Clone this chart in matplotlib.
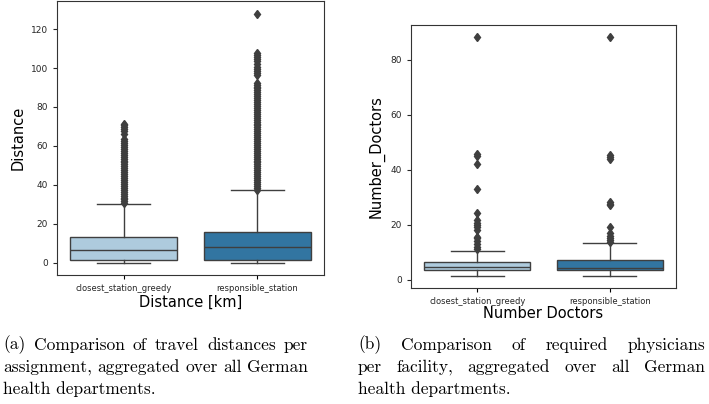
import matplotlib.pyplot as plt

methods = ["closest_station_greedy", "responsible_station"]
box_colors = ["#aecbdd", "#3275a1"]

# Distanz-Boxplots
dist_q1 = [1.4, 1.5]
dist_med = [6.5, 8.0]
dist_q3 = [13.0, 16.0]
dist_lo = [0.1, 0.1]
dist_hi = [30.3, 37.3]
dist_fliers_greedy = [30.5, 31.5, 32.5, 33.5, 34.5, 35.5, 36.5, 37.5, 38.5, 39.5,
                      40.5, 41.5, 42.5, 43.5, 44.5, 45.5, 46.5, 47.5, 48.5, 49.5,
                      50.5, 51.5, 52.5, 53.5, 54.5, 55.5, 56.5, 57.5, 58.5, 59.5,
                      60.5, 61.5, 62.5, 63.5, 66.0, 67.5, 68.5, 69.5, 70.5, 71.5]
dist_fliers_resp = [37.5, 38.5, 39.5, 40.5, 41.5, 42.5, 43.5, 44.5, 45.5, 46.5,
                    47.5, 48.5, 49.5, 50.5, 51.5, 52.5, 53.5, 54.5, 55.5, 56.5,
                    57.5, 58.5, 59.5, 60.5, 61.5, 62.5, 63.5, 64.5, 65.5, 66.5,
                    67.5, 68.5, 69.5, 70.5, 71.5, 72.5, 73.5, 74.5, 75.5, 76.5,
                    77.5, 78.5, 79.5, 80.5, 81.5, 82.5, 83.5, 84.5, 85.5, 86.5,
                    87.5, 88.5, 89.5, 90.5, 91.5, 92.5, 96.5, 97.5, 98.5, 99.5,
                    100.5, 102.0, 103.5, 104.5, 105.5, 106.5, 107.5, 128.0]

# Arzt-Boxplots
doc_q1 = [3.4, 3.4]
doc_med = [4.6, 4.4]
doc_q3 = [6.4, 7.3]
doc_lo = [1.3, 1.3]
doc_hi = [10.4, 13.3]
doc_fliers_greedy = [11.3, 12.0, 13.1, 14.0, 15.0, 15.5, 18.0, 19.0, 20.0, 20.7,
                     21.6, 24.3, 33.0, 42.0, 45.0, 45.6, 88.3]
doc_fliers_resp = [13.7, 14.5, 15.2, 16.0, 16.8, 19.2, 27.0, 27.7, 28.3, 44.0,
                   44.6, 45.4, 88.3]

caption_a = ["(a) Comparison of travel distances per",
             "assignment, aggregated over all German",
             "health departments."]
caption_b = ["(b) Comparison of required physicians",
             "per facility, aggregated over all German",
             "health departments."]

edge = "#3f3f3f"
cap_size = 12.5


def make_stats(q1, med, q3, lo, hi, fliers):
    stats = []
    for i in range(len(q1)):
        stats.append({"q1": q1[i], "med": med[i], "q3": q3[i],
                      "whislo": lo[i], "whishi": hi[i], "fliers": fliers[i]})
    return stats


def draw_box(ax, stats):
    res = ax.bxp(stats, positions=[0, 1], widths=0.8, patch_artist=True,
                 boxprops=dict(edgecolor=edge, linewidth=1.0),
                 medianprops=dict(color=edge, linewidth=1.0),
                 whiskerprops=dict(color=edge, linewidth=1.0),
                 capprops=dict(color=edge, linewidth=1.0),
                 flierprops=dict(marker="d", markerfacecolor=edge,
                                 markeredgecolor=edge, markersize=4.5))
    for patch, c in zip(res["boxes"], box_colors):
        patch.set_facecolor(c)
    ax.set_xlim(-0.5, 1.5)
    ax.set_xticks([0, 1])
    ax.set_xticklabels(methods, fontsize=6, color="#262626")
    ax.tick_params(axis="y", labelsize=6.5, colors="#262626", length=3)
    ax.tick_params(axis="x", length=3)
    for s in ax.spines.values():
        s.set_color("#333333")


def caption(fig, lines, x0, x1, y_px):
    # Blocksatz wie im LaTeX-Original: alle Zeilen ausser der letzten strecken
    r = fig.canvas.get_renderer()
    W, H = fig.bbox.width, fig.bbox.height
    for i, line in enumerate(lines):
        y = 1 - (y_px + 22 * i) / H
        if i == len(lines) - 1:
            fig.text(x0 / W, y, line, family="cmr10", fontsize=cap_size, va="center")
            continue
        words = line.split()
        texts = [fig.text(0, y, w, family="cmr10", fontsize=cap_size, va="center")
                 for w in words]
        widths = [t.get_window_extent(r).width for t in texts]
        gap = (x1 - x0 - sum(widths)) / (len(words) - 1)
        x = x0
        for t, w in zip(texts, widths):
            t.set_x(x / W)
            x += w + gap


fig = plt.figure(figsize=(7.09, 4.04), dpi=100)

ax1 = fig.add_axes([0.0804, 0.3193, 0.3766, 0.678])
draw_box(ax1, make_stats(dist_q1, dist_med, dist_q3, dist_lo, dist_hi,
                         [dist_fliers_greedy, dist_fliers_resp]))
ax1.set_yticks([0, 20, 40, 60, 80, 100, 120])
ax1.set_ylabel("Distance", fontsize=10.5)
ax1.set_xlabel("Distance [km]", fontsize=10.5, labelpad=1)

ax2 = fig.add_axes([0.5797, 0.2871, 0.3738, 0.651])
draw_box(ax2, make_stats(doc_q1, doc_med, doc_q3, doc_lo, doc_hi,
                         [doc_fliers_greedy, doc_fliers_resp]))
ax2.set_yticks([0, 20, 40, 60, 80])
ax2.set_ylabel("Number_Doctors", fontsize=10.5)
ax2.set_xlabel("Number Doctors", fontsize=10.5, labelpad=0)

caption(fig, caption_a, 3, 308, 345)
caption(fig, caption_b, 358, 705, 345)

fig.savefig("out.png", dpi=100)
